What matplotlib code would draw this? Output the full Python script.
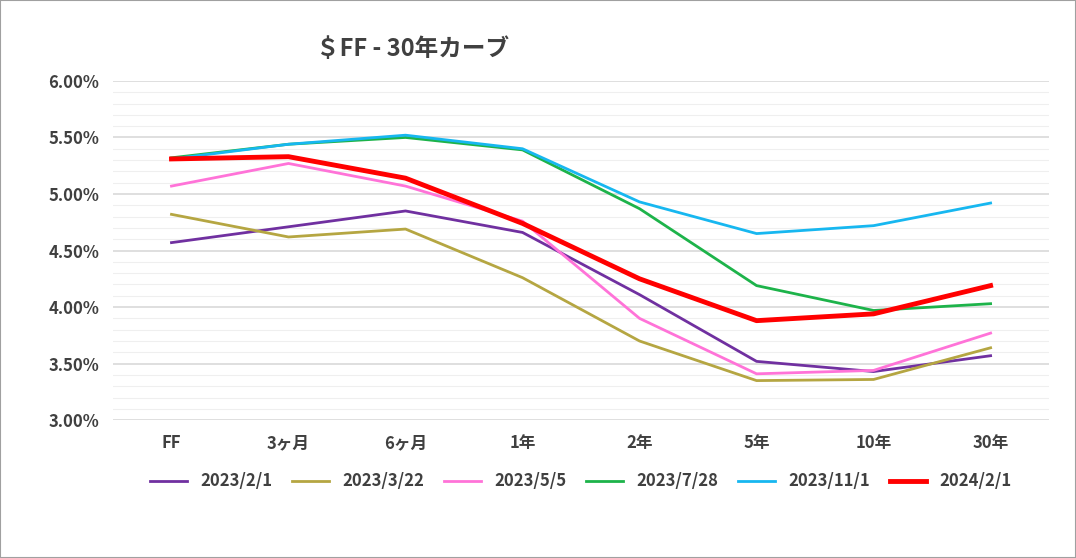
import matplotlib.pyplot as plt #plotting tool
from matplotlib.ticker import MultipleLocator, FuncFormatter

plt.rcParams['font.family'] = ['Noto Sans CJK JP', 'DejaVu Sans']
plt.rcParams['font.weight'] = 'bold'

tenors = ["FF", "3ヶ月", "6ヶ月", "1年", "2年", "5年", "10年", "30年"]
labels = ["2023/2/1", "2023/3/22", "2023/5/5", "2023/7/28", "2023/11/1", "2024/2/1"]
v_0201 = [4.57, 4.71, 4.85, 4.66, 4.11, 3.52, 3.43, 3.57]
v_0322 = [4.82, 4.62, 4.69, 4.26, 3.70, 3.35, 3.36, 3.64]
v_0505 = [5.07, 5.27, 5.07, 4.76, 3.90, 3.41, 3.44, 3.77]
v_0728 = [5.32, 5.44, 5.50, 5.39, 4.87, 4.19, 3.97, 4.03]
v_1101 = [5.31, 5.44, 5.52, 5.40, 4.93, 4.65, 4.72, 4.92]
v_0201_24 = [5.31, 5.33, 5.14, 4.74, 4.25, 3.88, 3.94, 4.19]
colors = ["#7030a0", "#b5a642", "#ff73d8", "#1db34a", "#17b7f0", "#ff0000"]

fig, ax = plt.subplots(figsize=(10.76, 5.58), dpi=100)
fig.subplots_adjust(left=0.105, right=0.975, top=0.855, bottom=0.247)
series = [v_0201, v_0322, v_0505, v_0728, v_1101, v_0201_24]
for vals, lab, col in zip(series, labels, colors):
    lw = 3.5 if lab == "2024/2/1" else 2
    ax.plot(range(len(tenors)), vals, color=col, lw=lw, label=lab) #one curve per date

ax.set_ylim(3.0, 6.0)
ax.set_xlim(-0.5, 7.5)
ax.yaxis.set_major_locator(MultipleLocator(0.5))
ax.yaxis.set_minor_locator(MultipleLocator(0.1))
ax.yaxis.set_major_formatter(FuncFormatter(lambda v, p: f"{v:.2f}%"))
ax.grid(axis='y', which='major', color='#d9d9d9', lw=1.2)
ax.grid(axis='y', which='minor', color='#efefef', lw=0.8)
ax.set_axisbelow(True)
ax.set_xticks(range(len(tenors)))
ax.set_xticklabels(tenors)
ax.tick_params(axis='both', which='both', length=0, labelsize=12, colors='#404040', pad=10)
for s in ax.spines.values():
    s.set_visible(False)
ax.set_title("＄FF - 30年カーブ", fontsize=17, fontweight='bold', color='#404040', x=0.32, pad=18)
ax.legend(loc='upper center', bbox_to_anchor=(0.5, -0.11), ncol=6, frameon=False,
          fontsize=12, handlelength=2.2, columnspacing=1.2, labelcolor='#404040')
fig.patches.append(plt.Rectangle((0, 0), 1, 1, transform=fig.transFigure, fill=False,
                                 edgecolor='#a0a0a0', lw=1.5))
fig.savefig("out.png")
